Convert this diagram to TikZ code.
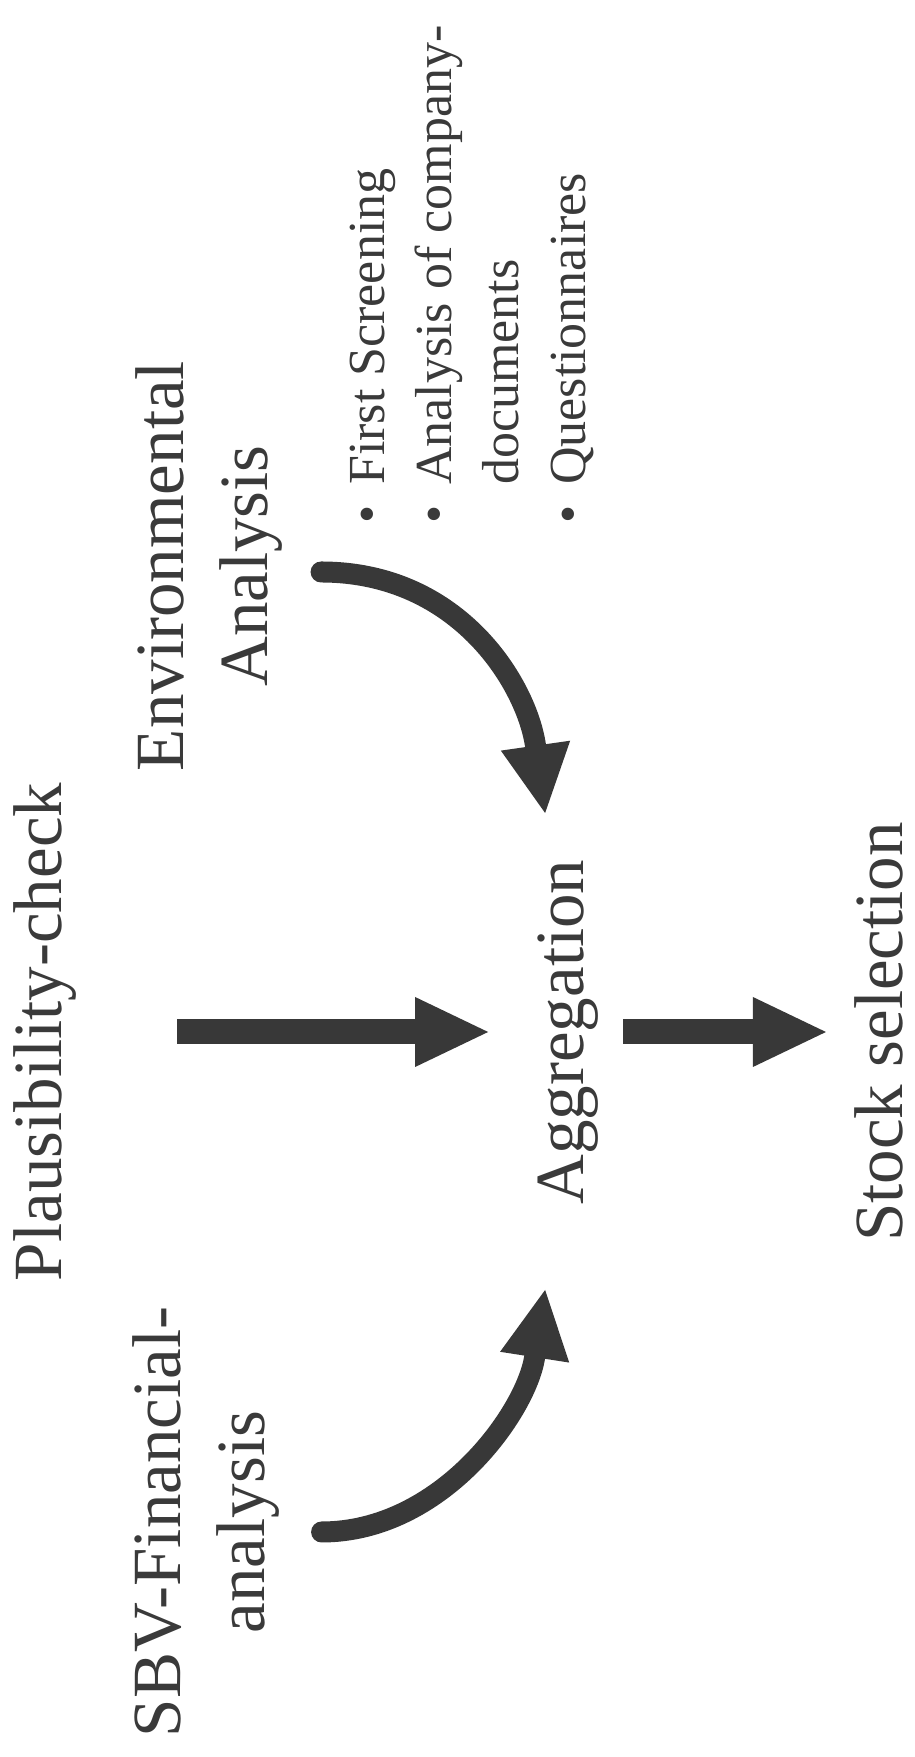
\documentclass[tikz,border=0pt]{standalone}
\usepackage{fontspec}
\setmainfont{Liberation Serif}
\usetikzlibrary{arrows.meta}
\definecolor{ink}{HTML}{3A3A3A}
\definecolor{arrowink}{HTML}{383838}
\begin{document}
\begin{tikzpicture}[x=1pt,y=1pt,
  lbl/.style={rotate=90, inner sep=0pt, text=ink, font=\fontsize{69}{84}\selectfont},
  blist/.style={rotate=90, inner sep=0pt, text=ink, font=\fontsize{52}{67}\selectfont, align=left},
  fatarrow/.style={draw=arrowink, line width=25pt, -{Triangle[length=73pt,width=70pt,line width=0pt]}},
  curvearrow/.style={draw=arrowink, line width=21pt, line cap=round, -{Triangle[length=68pt,width=70pt,line width=0pt]}}
]
\fill[white] (0,0) rectangle (915,1757);
\useasboundingbox (0,0) rectangle (915,1757);

\node[lbl, anchor=base] (plaus) at (61,725) {Plausibility-check};
\node[lbl, anchor=base] (agg) at (583,725) {Aggregation};
\node[lbl, anchor=base] (stock) at (902,725) {Stock selection};
\node[lbl, align=center] (env) at (209.5,1191) {Environmental\\Analysis};
\node[lbl, align=center] (sbv) at (206,235) {SBV-Financial-\\analysis};
\node[blist, anchor=north west] (list) at (349.5,1233)
  {\textbullet\hspace{0.4em}First Screening\\
   \textbullet\hspace{0.4em}Analysis of company-\\
   \phantom{\textbullet\hspace{0.4em}}documents\\
   \textbullet\hspace{0.4em}Questionnaires};

\draw[fatarrow, shorten <=101pt, shorten >=49pt] (plaus.south) -- (agg.north);
\draw[fatarrow, shorten <=25pt, shorten >=28pt] (agg.south) -- (stock.north);

\draw[curvearrow] ([shift={(38pt,-6pt)}]env.south) .. controls +(140,0) and +(-18,126) .. ([shift={(8pt,219pt)}]agg.north);
\draw[curvearrow] ([shift={(42pt,-10pt)}]sbv.south) .. controls +(120,0) and +(-19,-122) .. ([shift={(8pt,-258pt)}]agg.north);
\end{tikzpicture}
\end{document}
